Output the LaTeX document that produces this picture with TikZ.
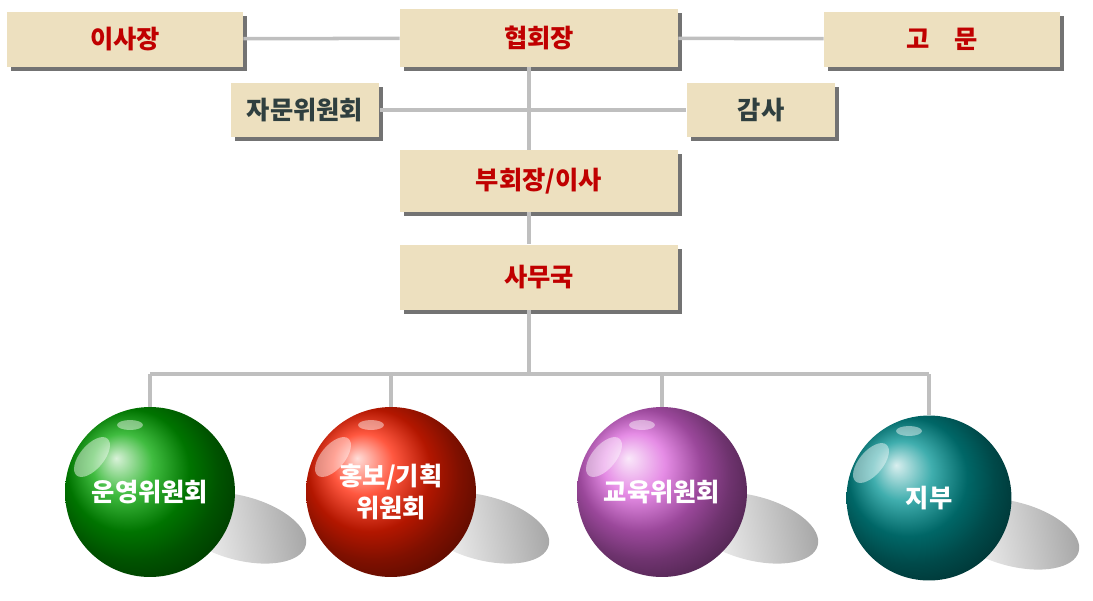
\documentclass[tikz,border=0pt]{standalone}
\usepackage{fontspec}
\newfontfamily\kr{Noto Sans CJK KR}
\usetikzlibrary{shadows,calc}

\definecolor{boxfill}{HTML}{EDE0BF}
\definecolor{headred}{HTML}{C00000}
\definecolor{subtext}{HTML}{2F3F3F}
\definecolor{linegray}{HTML}{BFBFBF}

\begin{document}
\begin{tikzpicture}[
    x=0.02cm, y=-0.02cm,
    postbox/.style={
        rectangle, fill=boxfill,
        drop shadow={shadow xshift=0.08cm, shadow yshift=-0.08cm, fill=black!55, opacity=1},
        minimum width=5.56cm, minimum height=1.16cm,
        font=\kr\bfseries\Large, text=headred
    },
    subbox/.style={
        postbox, minimum width=2.98cm, minimum height=1.08cm, text=subtext
    },
    link/.style={linegray, line width=2pt},
    ball/.style={circle, minimum size=3.4cm, shading=ball, inner sep=0pt,
        font=\kr\bfseries\Large, text=white, align=center},
    balshadow/.style={left color=white, right color=black!35, shading angle=100}
]
\useasboundingbox (0,0) rectangle (1093,600);

% top row
\node[postbox, minimum width=4.72cm, minimum height=1.1cm] (chair) at (125,39) {이사장};
\node[postbox] (pres) at (539,38) {협회장};
\node[postbox, minimum width=4.72cm, minimum height=1.1cm] (advisor) at (942,39) {고\quad 문};

% second row
\node[subbox] (council) at (305,110) {자문위원회};
\node[subbox] (audit) at (761,110) {감사};

% main column
\node[postbox, minimum height=1.24cm] (vice) at (539,181) {부회장/이사};
\node[postbox, minimum height=1.3cm] (office) at (539,277) {사무국};

\coordinate (bus) at (529,374);

% shadows of the balls
\foreach \cx/\cy in {240/528, 483/528, 752/528, 1013/534}
    \shade[balshadow, rotate around={-15:(\cx,\cy)}] (\cx,\cy) ellipse (68 and 32);

% committees
\node[ball, ball color=green!65!black] (ops) at (150,492) {운영위원회};
\node[ball, ball color=red!75!orange] (promo) at (391,492) {홍보/기획\\위원회};
\node[ball, ball color=violet!45!magenta!60!white] (edu) at (662,492) {교육위원회};
\node[ball, ball color=teal!85!cyan, minimum size=3.3cm] (branch) at (929,498) {지부};

% highlights
\foreach \n in {ops, promo, edu, branch} {
    \coordinate (hl) at ($(\n.center)+(-58,-35)$);
    \fill[white, opacity=0.45, rotate around={-40:(hl)}] (hl) ellipse (12 and 24);
    \fill[white, opacity=0.45] ($(\n.center)+(-20,-67)$) ellipse (13 and 5);
}

% connectors
\draw[link] (chair) -- (pres);
\draw[link] (pres) -- (advisor);
\draw[link] (council.east) -- (audit.west);
\draw[link] (pres.south -| bus) -- (vice.north -| bus);
\draw[link] (vice.south -| bus) -- (office.north -| bus);
\draw[link] (office.south -| bus) -- (bus);
\draw[link] (ops.north |- bus) -- (branch.north |- bus);
\foreach \n in {ops, promo, edu, branch}
    \draw[link] (\n.north |- bus) -- (\n.north);

\end{tikzpicture}
\end{document}
